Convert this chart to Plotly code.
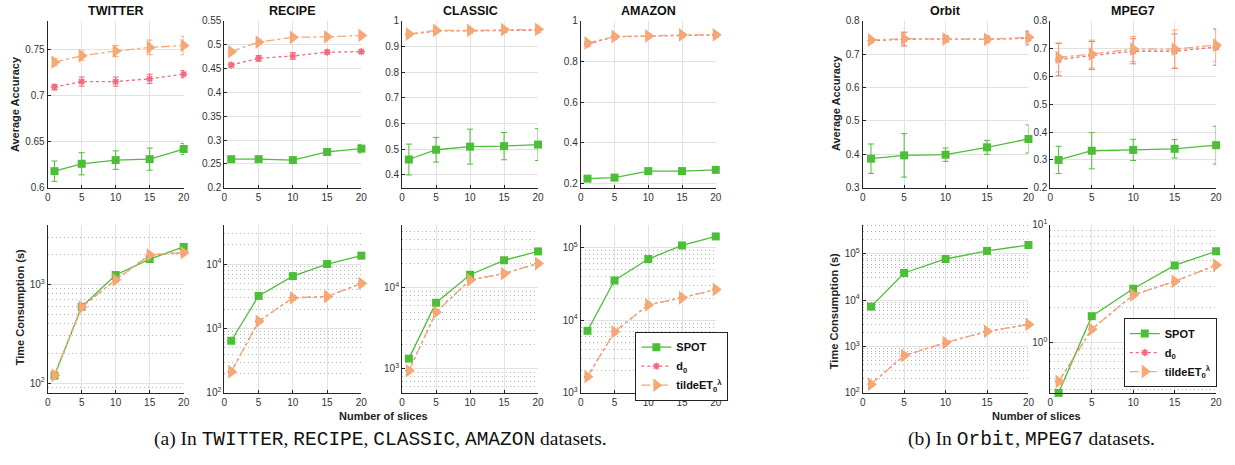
import plotly.graph_objects as go

W, H = 1235, 465

x_slices = [1, 5, 10, 15, 20]
x_ticks = [0, 5, 10, 15, 20]

# ---------------- Average accuracy (mean, error) ----------------
twitter_acc_spot = [0.618, 0.626, 0.630, 0.631, 0.642]
twitter_err_spot = [0.011, 0.012, 0.010, 0.012, 0.006]
twitter_acc_d0 = [0.709, 0.715, 0.715, 0.718, 0.723]
twitter_err_d0 = [0.003, 0.005, 0.005, 0.005, 0.004]
twitter_acc_tilde = [0.736, 0.743, 0.748, 0.752, 0.754]
twitter_err_tilde = [0.004, 0.005, 0.006, 0.008, 0.010]

recipe_acc_spot = [0.260, 0.260, 0.258, 0.275, 0.282]
recipe_err_spot = [0.003, 0.004, 0.004, 0.006, 0.009]
recipe_acc_d0 = [0.457, 0.471, 0.476, 0.484, 0.485]
recipe_err_d0 = [0.004, 0.006, 0.007, 0.004, 0.004]
recipe_acc_tilde = [0.485, 0.505, 0.515, 0.516, 0.519]
recipe_err_tilde = [0.004, 0.004, 0.003, 0.003, 0.003]

classic_acc_spot = [0.460, 0.498, 0.510, 0.512, 0.518]
classic_err_spot = [0.060, 0.048, 0.068, 0.053, 0.062]
classic_acc_d0 = [0.946, 0.960, 0.960, 0.962, 0.963]
classic_err_d0 = [0.005, 0.004, 0.004, 0.004, 0.004]
classic_acc_tilde = [0.948, 0.962, 0.962, 0.965, 0.966]
classic_err_tilde = [0.005, 0.004, 0.004, 0.004, 0.004]

amazon_acc_spot = [0.225, 0.230, 0.262, 0.262, 0.268]
amazon_err_spot = [0.004, 0.004, 0.004, 0.004, 0.004]
amazon_acc_d0 = [0.885, 0.920, 0.924, 0.928, 0.930]
amazon_err_d0 = [0.008, 0.006, 0.006, 0.005, 0.005]
amazon_acc_tilde = [0.890, 0.922, 0.925, 0.930, 0.930]
amazon_err_tilde = [0.008, 0.006, 0.006, 0.005, 0.005]

orbit_acc_spot = [0.387, 0.397, 0.399, 0.421, 0.446]
orbit_err_spot = [0.044, 0.065, 0.020, 0.021, 0.042]
orbit_acc_d0 = [0.740, 0.744, 0.745, 0.744, 0.747]
orbit_err_d0 = [0.005, 0.020, 0.010, 0.010, 0.020]
orbit_acc_tilde = [0.742, 0.746, 0.745, 0.744, 0.750]
orbit_err_tilde = [0.005, 0.020, 0.010, 0.010, 0.020]

mpeg7_acc_spot = [0.300, 0.333, 0.336, 0.340, 0.353]
mpeg7_err_spot = [0.049, 0.065, 0.038, 0.033, 0.068]
mpeg7_acc_d0 = [0.660, 0.675, 0.690, 0.690, 0.705]
mpeg7_err_d0 = [0.058, 0.050, 0.045, 0.062, 0.065]
mpeg7_acc_tilde = [0.668, 0.680, 0.698, 0.698, 0.712]
mpeg7_err_tilde = [0.052, 0.050, 0.045, 0.068, 0.058]

# ---------------- Time consumption (s) ----------------
twitter_time_spot = [119, 593, 1245, 1806, 2400]
twitter_time_d0 = [120, 590, 1112, 1990, 2100]
twitter_time_tilde = [120, 590, 1112, 1990, 2100]

recipe_time_spot = [645, 3200, 6500, 10000, 13500]
recipe_time_d0 = [213, 1290, 2990, 3130, 5000]
recipe_time_tilde = [213, 1290, 2990, 3130, 5000]

classic_time_spot = [1330, 6530, 14500, 21900, 28200]
classic_time_d0 = [945, 5000, 12500, 15000, 20000]
classic_time_tilde = [945, 5000, 12500, 15000, 20000]

amazon_time_spot = [7130, 35000, 69000, 106000, 141000]
amazon_time_d0 = [1670, 6900, 16200, 20300, 26300]
amazon_time_tilde = [1670, 6900, 16200, 20300, 26300]

orbit_time_spot = [7250, 38500, 77000, 115000, 154000]
orbit_time_d0 = [154, 640, 1210, 2120, 3000]
orbit_time_tilde = [154, 640, 1210, 2120, 3000]

mpeg7_time_spot = [0.376, 1.68, 2.87, 4.52, 5.96]
mpeg7_time_d0 = [0.469, 1.30, 2.54, 3.31, 4.55]
mpeg7_time_tilde = [0.469, 1.30, 2.54, 3.31, 4.55]

titles = ["TWITTER", "RECIPE", "CLASSIC", "AMAZON", "Orbit", "MPEG7"]
series_names = ["SPOT", "d<sub>0</sub>", "tildeET<sub>0</sub><sup>λ</sup>"]

# ---------------- styling ----------------
GREEN = "#4dbe38"
PINK = "#f4687e"
ORANGE = "#f5a874"
TXT = "#333333"
FONT = "Liberation Sans, Arial, sans-serif"

styles = [
    dict(color=GREEN, symbol="square", size=8, dash="solid"),
    dict(color=PINK, symbol="asterisk-open", size=6, dash="dot"),
    dict(color=ORANGE, symbol="triangle-right", size=12, dash="dashdot"),
]

cols_px = [(45, 182), (223, 361), (402, 539), (582, 718), (866, 1033), (1055, 1222)]
top_px = (14, 186)
bot_px = (224, 397)


def xd(a, b):
    return [a / W, b / W]


def yd(a, b):
    return [1 - b / H, 1 - a / H]


acc_data = [
    (twitter_acc_spot, twitter_err_spot, twitter_acc_d0, twitter_err_d0, twitter_acc_tilde, twitter_err_tilde),
    (recipe_acc_spot, recipe_err_spot, recipe_acc_d0, recipe_err_d0, recipe_acc_tilde, recipe_err_tilde),
    (classic_acc_spot, classic_err_spot, classic_acc_d0, classic_err_d0, classic_acc_tilde, classic_err_tilde),
    (amazon_acc_spot, amazon_err_spot, amazon_acc_d0, amazon_err_d0, amazon_acc_tilde, amazon_err_tilde),
    (orbit_acc_spot, orbit_err_spot, orbit_acc_d0, orbit_err_d0, orbit_acc_tilde, orbit_err_tilde),
    (mpeg7_acc_spot, mpeg7_err_spot, mpeg7_acc_d0, mpeg7_err_d0, mpeg7_acc_tilde, mpeg7_err_tilde),
]
time_data = [
    (twitter_time_spot, twitter_time_d0, twitter_time_tilde),
    (recipe_time_spot, recipe_time_d0, recipe_time_tilde),
    (classic_time_spot, classic_time_d0, classic_time_tilde),
    (amazon_time_spot, amazon_time_d0, amazon_time_tilde),
    (orbit_time_spot, orbit_time_d0, orbit_time_tilde),
    (mpeg7_time_spot, mpeg7_time_d0, mpeg7_time_tilde),
]

acc_ranges = [[0.6, 0.781], [0.2, 0.55], [0.35, 1.0], [0.18, 1.0], [0.3, 0.8], [0.2, 0.8]]
acc_ticks = [
    ["0.6", "0.65", "0.7", "0.75"],
    ["0.2", "0.25", "0.3", "0.35", "0.4", "0.45", "0.5", "0.55"],
    ["0.4", "0.5", "0.6", "0.7", "0.8", "0.9", "1"],
    ["0.2", "0.4", "0.6", "0.8", "1"],
    ["0.3", "0.4", "0.5", "0.6", "0.7", "0.8"],
    ["0.2", "0.3", "0.4", "0.5", "0.6", "0.7", "0.8"],
]
time_ranges = [[1.9, 3.605], [2.0, 4.61], [2.70, 4.78], [3.0, 5.31], [2.0, 5.625], [-0.425, 1.0]]
time_decades = [[2, 3], [2, 3, 4], [3, 4], [3, 4, 5], [2, 3, 4, 5], [0, 1]]

fig = go.Figure()
layout = {}

tickfont = dict(family=FONT, size=10, color=TXT)


def axis_common():
    return dict(
        showline=True, linecolor="#262626", linewidth=1,
        ticks="inside", ticklen=3, tickcolor="#262626",
        showgrid=True, gridcolor="#e2e2e2", gridwidth=1,
        zeroline=False, tickfont=tickfont, mirror=False,
    )


idx = 0
for row in range(2):
    for c in range(6):
        idx += 1
        xa = "x" if idx == 1 else f"x{idx}"
        ya = "y" if idx == 1 else f"y{idx}"
        xkey = "xaxis" if idx == 1 else f"xaxis{idx}"
        ykey = "yaxis" if idx == 1 else f"yaxis{idx}"
        xpx = cols_px[c]
        ypx = top_px if row == 0 else bot_px

        xax = axis_common()
        xax.update(domain=xd(*xpx), range=[0, 20], tickmode="array",
                   tickvals=x_ticks, ticktext=[str(v) for v in x_ticks], anchor=ya)
        layout[xkey] = xax

        yax = axis_common()
        yax.update(domain=yd(*ypx), anchor=xa)
        if row == 0:
            yax.update(range=acc_ranges[c], tickmode="array",
                       tickvals=[float(t) for t in acc_ticks[c]], ticktext=acc_ticks[c])
            d = acc_data[c]
            pairs = [(d[0], d[1]), (d[2], d[3]), (d[4], d[5])]
            for s, (vals, errs) in enumerate(pairs):
                st = styles[s]
                fig.add_trace(go.Scatter(
                    x=x_slices, y=vals, xaxis=xa, yaxis=ya, mode="lines+markers",
                    line=dict(color=st["color"], width=1.3, dash=st["dash"]),
                    marker=dict(symbol=st["symbol"], size=st["size"], color=st["color"],
                                line=dict(color=st["color"], width=1.5 if s == 1 else 0)),
                    error_y=dict(type="data", array=errs, color=st["color"], thickness=1, width=3),
                    showlegend=False, cliponaxis=False, name=series_names[s]))
        else:
            lo, hi = time_ranges[c]
            yax.update(type="log", range=[lo, hi], tickmode="array",
                       tickvals=[10 ** k for k in time_decades[c]],
                       ticktext=[f"10<sup>{k}</sup>" for k in time_decades[c]])
            minor_vals = []
            for k in range(int(lo) - 1, int(hi) + 2):
                for m in range(2, 10):
                    minor_vals.append(m * 10 ** k)
            yax["minor"] = dict(tickmode="array", tickvals=minor_vals, ticks="",
                                showgrid=True, gridcolor="#b4b4b4", griddash="1px,3px", gridwidth=1)
            d = time_data[c]
            for s in range(3):
                st = styles[s]
                legend_name = None
                if c == 3:
                    legend_name = "legend"
                elif c == 5:
                    legend_name = "legend2"
                tr = dict(
                    x=x_slices, y=d[s], xaxis=xa, yaxis=ya, mode="lines+markers",
                    line=dict(color=st["color"], width=1.3, dash=st["dash"]),
                    marker=dict(symbol=st["symbol"], size=st["size"], color=st["color"],
                                line=dict(color=st["color"], width=1.5 if s == 1 else 0)),
                    cliponaxis=False, name=series_names[s],
                    showlegend=legend_name is not None)
                if legend_name:
                    tr["legend"] = legend_name
                fig.add_trace(go.Scatter(**tr))
        layout[ykey] = yax

annotations = []
for c, t in enumerate(titles):
    cx = (cols_px[c][0] + cols_px[c][1]) / 2 / W
    annotations.append(dict(text=f"<b>{t}</b>", x=cx, y=1 - 4 / H, xref="paper", yref="paper",
                            showarrow=False, xanchor="center", yanchor="middle",
                            font=dict(family=FONT, size=12.5, color="#111")))

ylabels = [
    ("Average Accuracy", 12, 100),
    ("Time Consumption (s)", 17, 309),
    ("Average Accuracy", 839, 99),
    ("Time Consumption (s)", 837, 313),
]
for t, px, py in ylabels:
    annotations.append(dict(text=f"<b>{t}</b>", x=px / W, y=1 - py / H, xref="paper", yref="paper",
                            showarrow=False, textangle=-90, xanchor="center", yanchor="middle",
                            font=dict(family=FONT, size=11, color="#222")))

for px in (383, 1041):
    annotations.append(dict(text="<b>Number of slices</b>", x=px / W, y=1 - 421 / H,
                            xref="paper", yref="paper", showarrow=False,
                            xanchor="center", yanchor="middle",
                            font=dict(family=FONT, size=11, color="#222")))

MONO = "font-family:Liberation Mono"
cap_a = ("(a) In <span style=\"%s\">TWITTER</span>, <span style=\"%s\">RECIPE</span>, "
         "<span style=\"%s\">CLASSIC</span>, <span style=\"%s\">AMAZON</span> datasets.") % (MONO, MONO, MONO, MONO)
cap_b = "(b) In <span style=\"%s\">Orbit</span>, <span style=\"%s\">MPEG7</span> datasets." % (MONO, MONO)
for t, px in ((cap_a, 380), (cap_b, 1036)):
    annotations.append(dict(text=t, x=px / W, y=1 - 445 / H, xref="paper", yref="paper",
                            showarrow=False, xanchor="center", yanchor="middle",
                            font=dict(family="Liberation Serif, DejaVu Serif, serif", size=19.5, color="#111")))

legend_common = dict(
    bgcolor="white", bordercolor="#222", borderwidth=1,
    font=dict(family=FONT, size=11, color="#111", weight="bold"),
    xref="paper", yref="paper", xanchor="left", yanchor="top",
    tracegroupgap=0, itemwidth=30,
)
leg1 = dict(legend_common, x=637 / W, y=1 - 334 / H)
leg2 = dict(legend_common, x=1129 / W, y=1 - 320 / H)

fig.update_layout(
    width=W, height=H,
    margin=dict(l=0, r=0, t=0, b=0),
    paper_bgcolor="white", plot_bgcolor="white",
    annotations=annotations,
    legend=leg1, legend2=leg2,
    **layout,
)

fig.write_html("out.html")
